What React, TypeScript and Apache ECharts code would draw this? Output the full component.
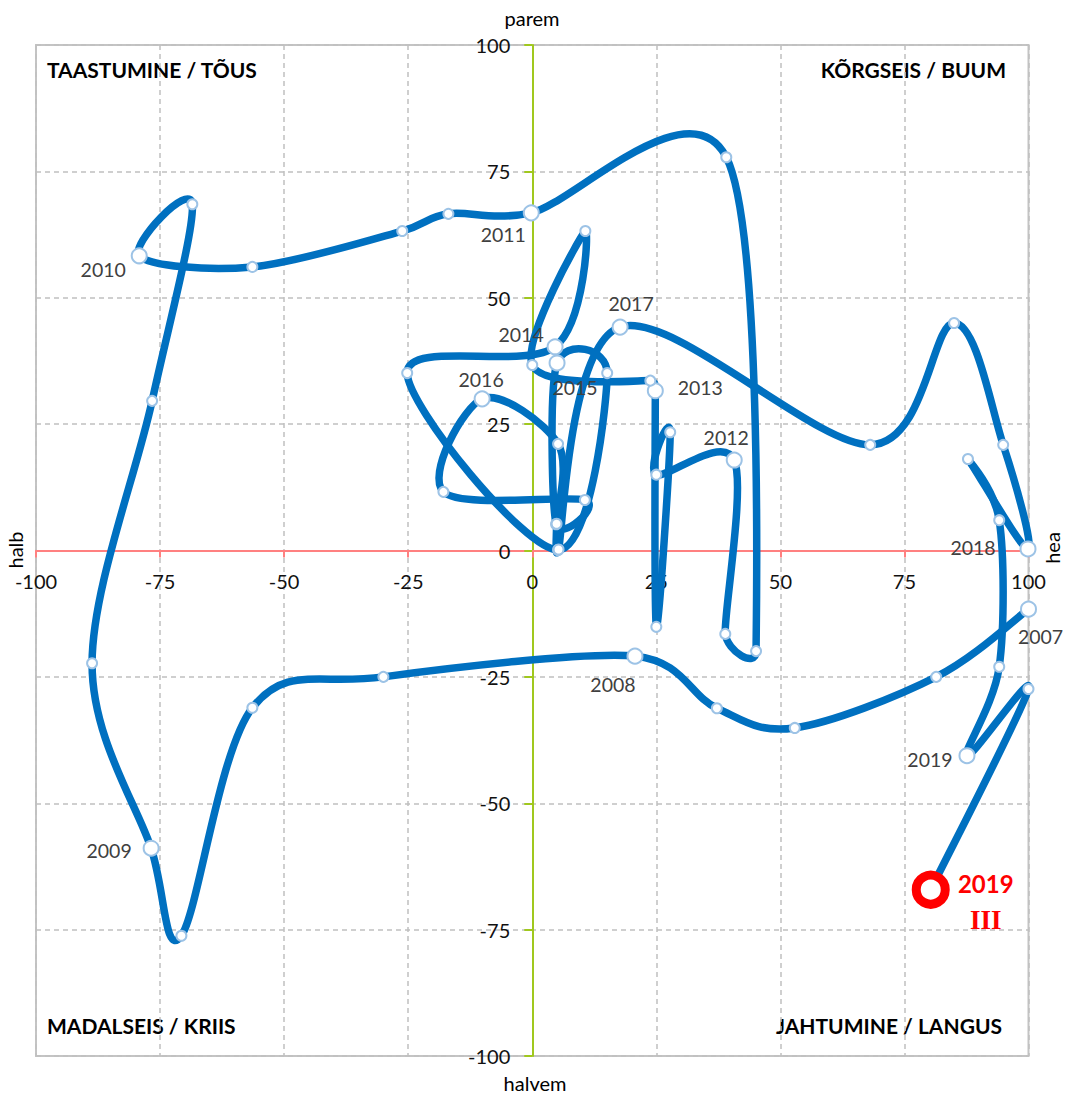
import React, { useEffect, useRef } from "react";
import * as echarts from "echarts";

// ---------------- data ----------------
const periods = [
  "2007 I", "2007 II", "2007 III", "2007 IV",
  "2008 I", "2008 II", "2008 III", "2008 IV",
  "2009 I", "2009 II", "2009 III", "2009 IV",
  "2010 I", "2010 II", "2010 III", "2010 IV",
  "2011 I", "2011 II", "2011 III", "2011 IV",
  "2012 I", "2012 II", "2012 III", "2012 IV",
  "2013 I", "2013 II", "2013 III", "2013 IV",
  "2014 I", "2014 II", "2014 III", "2014 IV",
  "2015 I", "2015 II", "2015 III", "2015 IV",
  "2016 I", "2016 II", "2016 III", "2016 IV",
  "2017 I", "2017 II", "2017 III", "2017 IV",
  "2018 I", "2018 II", "2018 III", "2018 IV",
  "2019 I", "2019 II", "2019 III",
];

// horizontal axis: halb (-100) ... hea (100)
const xValues = [
  100.0, 81.4, 52.9, 37.2,
  20.7, -30.0, -56.4, -70.7,
  -76.8, -88.7, -76.6, -68.5,
  -79.2, -56.4, -26.2, -16.9,
  -0.2, 39.1, 45.1, 38.9,
  40.7, 25.0, 27.8, 25.0,
  24.8, 23.8, 0.0, 10.7,
  4.6, -25.2, 5.2, 15.1,
  5.0, 4.8, 10.6, -17.9,
  -10.1, 5.2, 4.9, 5.3,
  17.7, 68.1, 85.0, 94.9,
  99.9, 87.8, 94.1, 94.1,
  87.6, 100.0, 80.3,
];

// vertical axis: halvem (-100) ... parem (100)
const yValues = [
  -11.6, -25.0, -35.1, -31.2,
  -20.9, -25.0, -31.1, -76.2,
  -58.9, -22.3, 29.6, 68.5,
  58.3, 56.1, 63.2, 66.6,
  66.8, 77.8, -19.9, -16.5,
  17.9, 15.0, 23.4, -15.1,
  31.6, 33.6, 36.7, 63.2,
  40.3, 35.1, 0.1, 35.1,
  37.1, 5.2, 10.0, 11.6,
  30.0, 21.1, 5.3, 0.2,
  44.2, 20.9, 45.0, 20.9,
  0.3, 18.1, 6.0, -23.0,
  -40.6, -27.4, -67.1,
];

const axisMin = -100;
const axisMax = 100;
const axisStep = 25;

const axisNameTop = "parem";
const axisNameBottom = "halvem";
const axisNameLeft = "halb";
const axisNameRight = "hea";

const quadrantTopLeft = "TAASTUMINE / TÕUS";
const quadrantTopRight = "KÕRGSEIS / BUUM";
const quadrantBottomLeft = "MADALSEIS / KRIIS";
const quadrantBottomRight = "JAHTUMINE / LANGUS";

// ---------------- styles ----------------
const FONT = "Lato";
const LINE_BLUE = "#0070C0";
const MARKER_BORDER = "#9DC3E6";

const GRID_LEFT = 36;
const GRID_RIGHT = 36.5;
const GRID_TOP = 45;
const GRID_BOTTOM = 41;
const CHART_W = 1065;
const CHART_H = 1097;

const LABEL_OFFSETS: Record<string, [number, number]> = {
  "2007 I": [12, 27],
  "2008 I": [-22, 28],
  "2009 I": [-42, 2],
  "2010 I": [-36, 14],
  "2011 I": [-28, 22],
  "2012 I": [-8, -23],
  "2013 I": [45, -3],
  "2014 I": [-34, -12],
  "2015 I": [18, 25],
  "2016 I": [-1, -19],
  "2017 I": [11, -24],
  "2018 I": [-55, -1],
  "2019 I": [-37, 4],
  "2019 III": [55, 12],
};

// tangent arm at b (Excel-like smoothing: 1/6 of chord, capped by half of the shorter neighbour segment)
function arm(a: number[], b: number[], c: number[]) {
  const vx = c[0] - a[0];
  const vy = c[1] - a[1];
  const len = Math.hypot(vx, vy);
  if (len === 0) return [0, 0];
  const d0 = Math.hypot(b[0] - a[0], b[1] - a[1]);
  const d1 = Math.hypot(c[0] - b[0], c[1] - b[1]);
  let l = len / 6;
  const cap = Math.min(d0 > 0 ? d0 : Infinity, d1 > 0 ? d1 : Infinity) / 2;
  if (l > cap) l = cap;
  return [(vx / len) * l, (vy / len) * l];
}

export default function App() {
  const ref = useRef<HTMLDivElement>(null);

  useEffect(() => {
    if (!ref.current) return;
    const chart = echarts.init(ref.current, undefined, { renderer: "svg" });

    const pts = xValues.map((x, i) => [x, yValues[i]]);
    const n = pts.length;

    const scatterData = pts.map((p, i) => {
      const name = periods[i];
      const isLast = i === n - 1;
      const isYear = name.endsWith(" I");
      const off = LABEL_OFFSETS[name];
      if (isLast) {
        const [yr, q] = name.split(" ");
        return {
          value: p,
          name,
          symbolSize: 29,
          itemStyle: { color: "#ffffff", borderColor: "#FF0000", borderWidth: 9, opacity: 1 },
          label: {
            show: true,
            position: "inside",
            offset: off,
            formatter: `{a|${yr}}\n{b|${q}}`,
            rich: {
              a: { fontFamily: FONT, fontWeight: "bold", fontSize: 24, color: "#FF0000", lineHeight: 36, align: "center" },
              b: { fontFamily: "Liberation Serif", fontWeight: "bold", fontSize: 27, color: "#FF0000", lineHeight: 36, align: "center" },
            },
          },
        };
      }
      return {
        value: p,
        name,
        symbolSize: isYear ? 15 : 10,
        itemStyle: { color: "#ffffff", borderColor: MARKER_BORDER, borderWidth: 2, opacity: 1 },
        label: isYear
          ? {
              show: true,
              position: "inside",
              offset: off,
              formatter: name.split(" ")[0],
              fontFamily: FONT,
              fontSize: 19.5,
              color: "#404040",
            }
          : { show: false },
      };
    });

    const coordOf = (api: any, k: number) => api.coord(pts[Math.max(0, Math.min(n - 1, k))]);

    const plotW = CHART_W - GRID_LEFT - GRID_RIGHT;
    const plotH = CHART_H - GRID_TOP - GRID_BOTTOM;
    // distance from the grid edge to the zero lines (axes cross at 0,0)
    const xAxisOffset = -(plotH * (0 - axisMin)) / (axisMax - axisMin);
    const yAxisOffset = -(plotW * (0 - axisMin)) / (axisMax - axisMin);

    const axisLabelStyle = { color: "#111", fontSize: 20, fontFamily: FONT };
    const splitLineStyle = { color: "#C0C0C0", width: 1.5, type: [5, 4] as any };

    const textStyle = (extra: any) => ({ fontFamily: FONT, fill: "#000", ...extra });

    chart.setOption({
      animation: false,
      backgroundColor: "#ffffff",
      grid: {
        left: GRID_LEFT,
        right: GRID_RIGHT,
        top: GRID_TOP,
        bottom: GRID_BOTTOM,
        show: true,
        borderColor: "#C4C4C4",
        borderWidth: 2,
        containLabel: false,
        outerBoundsMode: "none",
      },
      xAxis: {
        type: "value",
        position: "bottom",
        offset: xAxisOffset,
        min: axisMin,
        max: axisMax,
        interval: axisStep,
        axisLine: { show: true, onZero: false, lineStyle: { color: "#FF8080", width: 2 } },
        axisTick: { show: true, length: 7, lineStyle: { color: "#FF8080", width: 2 } },
        axisLabel: { ...axisLabelStyle, margin: 20 },
        splitLine: { show: true, lineStyle: splitLineStyle },
      },
      yAxis: {
        type: "value",
        position: "left",
        offset: yAxisOffset,
        min: axisMin,
        max: axisMax,
        interval: axisStep,
        axisLine: { show: true, onZero: false, lineStyle: { color: "#A0C81E", width: 2 } },
        axisTick: { show: true, length: 8, lineStyle: { color: "#A0C81E", width: 2 } },
        axisLabel: { ...axisLabelStyle, margin: 22 },
        splitLine: { show: true, lineStyle: splitLineStyle },
      },
      graphic: [
        { type: "text", x: 532, y: 18, style: textStyle({ text: axisNameTop, fontSize: 20, align: "center", verticalAlign: "middle" }) },
        { type: "text", x: 535, y: 1083, style: textStyle({ text: axisNameBottom, fontSize: 20, align: "center", verticalAlign: "middle" }) },
        { type: "text", x: 15, y: 550, rotation: Math.PI / 2, style: textStyle({ text: axisNameLeft, fontSize: 20, align: "center", verticalAlign: "middle" }) },
        { type: "text", x: 1052, y: 548, rotation: Math.PI / 2, style: textStyle({ text: axisNameRight, fontSize: 20, align: "center", verticalAlign: "middle" }) },
        { type: "text", x: 47, y: 69, style: textStyle({ text: quadrantTopLeft, fontSize: 21, fontWeight: "bold", align: "left", verticalAlign: "middle" }) },
        { type: "text", x: 1006, y: 69, style: textStyle({ text: quadrantTopRight, fontSize: 21, fontWeight: "bold", align: "right", verticalAlign: "middle" }) },
        { type: "text", x: 47, y: 1025, style: textStyle({ text: quadrantBottomLeft, fontSize: 21, fontWeight: "bold", align: "left", verticalAlign: "middle" }) },
        { type: "text", x: 1002, y: 1025, style: textStyle({ text: quadrantBottomRight, fontSize: 21, fontWeight: "bold", align: "right", verticalAlign: "middle" }) },
      ],
      series: [
        {
          type: "custom",
          name: "trajectory",
          coordinateSystem: "cartesian2d",
          z: 2,
          clip: false,
          silent: true,
          encode: { x: 0, y: 1 },
          data: pts,
          renderItem: (params: any, api: any) => {
            const i = params.dataIndex;
            if (i === 0) return null;
            const p0 = coordOf(api, i - 2);
            const p1 = coordOf(api, i - 1);
            const p2 = coordOf(api, i);
            const p3 = coordOf(api, i + 1);
            const a1 = arm(p0, p1, p2);
            const a2 = arm(p1, p2, p3);
            return {
              type: "bezierCurve",
              shape: {
                x1: p1[0],
                y1: p1[1],
                x2: p2[0],
                y2: p2[1],
                cpx1: p1[0] + a1[0],
                cpy1: p1[1] + a1[1],
                cpx2: p2[0] - a2[0],
                cpy2: p2[1] - a2[1],
              },
              style: { stroke: LINE_BLUE, lineWidth: 7.5, fill: "none", lineCap: "round", lineJoin: "round" },
            };
          },
        },
        {
          type: "scatter",
          name: "points",
          z: 3,
          symbol: "circle",
          silent: true,
          data: scatterData,
        },
      ],
    });

    return () => chart.dispose();
  }, []);

  return (
    <div
      ref={ref}
      style={{ position: "absolute", left: 0, top: 0, width: CHART_W, height: CHART_H, background: "#fff" }}
    />
  );
}
